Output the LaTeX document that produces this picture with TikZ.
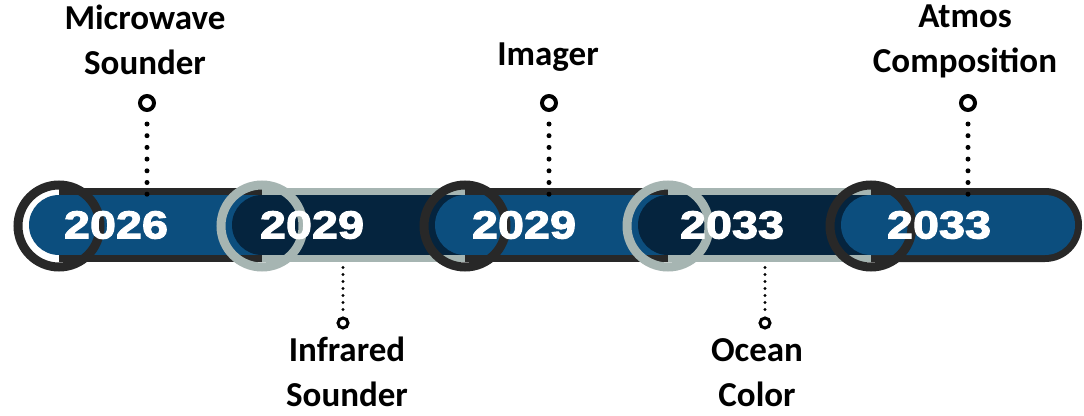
\documentclass[tikz,border=0pt]{standalone}
\usepackage{fontspec}
\newfontfamily\yearfont[FakeStretch=1.2,FakeBold=2.8]{Liberation Sans Bold}
\newfontfamily\labelfont{Carlito}
\definecolor{blueC}{RGB}{12,78,126}
\definecolor{navyC}{RGB}{5,36,62}
\definecolor{darkC}{RGB}{40,40,40}
\definecolor{greyC}{RGB}{166,181,178}
\begin{document}
\begin{tikzpicture}[x=1pt,y=-1pt,
  yearstyle/.style={font=\yearfont\fontsize{39}{39}\selectfont, text=white, inner sep=0pt},
  lbl/.style={font=\labelfont\bfseries\fontsize{35}{45}\selectfont, align=center, inner sep=0pt, anchor=base},
  bigring/.style={circle, draw=#1, line width=9pt, minimum size=82pt, inner sep=0pt},
  pin/.style={circle, draw=black, line width=4pt, minimum size=14pt, inner sep=0pt},
  smallpin/.style={circle, draw=black, line width=3pt, minimum size=10pt, inner sep=0pt},
  dots/.style={line width=5pt, line cap=round, dash pattern=on 0pt off 11.7pt, shorten <=12pt},
  smalldots/.style={line width=3.4pt, line cap=round, dash pattern=on 0pt off 7pt, shorten <=7pt}
]
\useasboundingbox[fill=white] (0,0) rectangle (1084,415);

% seg 1
\fill[blueC] (59,225) circle (30);
\fill[blueC] (59,195) rectangle (264,255);
\fill[darkC] (59,188) rectangle (264,195);
\fill[darkC] (59,255) rectangle (264,262);
\node[bigring=darkC] (r1) at (59,226) {};
% seg 2
\fill[navyC] (262,225) circle (30);
\fill[navyC] (262,195) rectangle (467,255);
\fill[greyC] (262,188) rectangle (467,195);
\fill[greyC] (262,255) rectangle (467,262);
\node[bigring=greyC] (r2) at (262,226) {};
% seg 3
\fill[blueC] (465,225) circle (30);
\fill[blueC] (465,195) rectangle (670,255);
\fill[darkC] (465,188) rectangle (670,195);
\fill[darkC] (465,255) rectangle (670,262);
\node[bigring=darkC] (r3) at (465,226) {};
% seg 4
\fill[navyC] (668,225) circle (30);
\fill[navyC] (668,195) rectangle (873,255);
\fill[greyC] (668,188) rectangle (873,195);
\fill[greyC] (668,255) rectangle (873,262);
\node[bigring=greyC] (r4) at (668,226) {};
% seg 5
\fill[blueC] (871,225) circle (30);
\fill[darkC] (871,188) -- (1045,188) arc[start angle=-90, end angle=90, radius=37] -- (871,262) -- cycle;
\fill[blueC] (871,195) -- (1045,195) arc[start angle=-90, end angle=90, radius=30] -- (871,255) -- cycle;
\node[bigring=darkC] (r5) at (871,226) {};

% years
\node[yearstyle] (y1) at (116,225) {2026};
\node[yearstyle] (y2) at (312,225) {2029};
\node[yearstyle] (y3) at (524,225) {2029};
\node[yearstyle] (y4) at (732,225) {2033};
\node[yearstyle] (y5) at (939,225) {2033};

% labels (anchor = baseline of last line)
\node[lbl] (l1) at (145,74) {Microwave\\Sounder};
\node[lbl] (l2) at (548,65) {Imager};
\node[lbl] (l3) at (965,72) {Atmos\\Composition};
\node[lbl] (l4) at (347,406) {Infrared\\Sounder};
\node[lbl] (l5) at (757,406) {Ocean\\Color};

% pins
\node[pin] (p1) at (147,103) {};
\node[pin] (p2) at (549,103) {};
\node[pin] (p3) at (968,103) {};
\node[smallpin] (q1) at (343,323) {};
\node[smallpin] (q2) at (765,323) {};

\coordinate (b1) at (147,196);
\coordinate (b2) at (549,196);
\coordinate (b3) at (968,196);
\coordinate (c1) at (343,267);
\coordinate (c2) at (765,267);

\draw[dots] (p1.south) -- (b1);
\draw[dots] (p2.south) -- (b2);
\draw[dots] (p3.south) -- (b3);
\draw[smalldots] (q1.north) -- (c1);
\draw[smalldots] (q2.north) -- (c2);
\end{tikzpicture}
\end{document}
